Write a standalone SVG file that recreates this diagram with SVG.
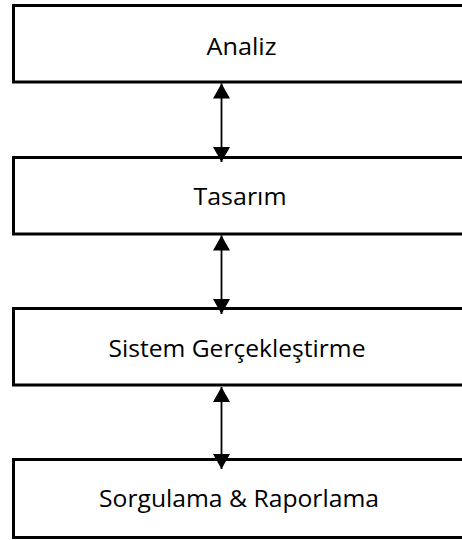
<svg xmlns="http://www.w3.org/2000/svg" width="462" height="540" viewBox="0 0 462 540">
<style>
.box{fill:#fff;stroke:#000;stroke-width:3}
.lbl{font-family:"Open Sans","Noto Sans","DejaVu Sans",sans-serif;font-size:24.5px;fill:#000;text-anchor:middle}
.conn{stroke:#000;stroke-width:1.8;fill:none;marker-start:url(#ah);marker-end:url(#ah)}
</style>
<defs>
<marker id="ah" markerUnits="userSpaceOnUse" markerWidth="16" markerHeight="17" refX="15" refY="8.5" orient="auto-start-reverse" viewBox="0 0 16 17">
<path d="M0,0 L15,8.5 L0,17 z" fill="#000"/>
</marker>
</defs>
<rect width="462" height="540" fill="#fff"/>
<g id="node-analiz">
<rect class="box" x="13.5" y="5.5" width="453" height="76.5"/>
<text class="lbl" x="241.5" y="54.5" textLength="70" lengthAdjust="spacingAndGlyphs">Analiz</text>
</g>
<g id="node-tasarim">
<rect class="box" x="13.5" y="157.5" width="453" height="76.5"/>
<text class="lbl" x="240" y="205" textLength="93" lengthAdjust="spacingAndGlyphs">Tasarım</text>
</g>
<g id="node-sistem">
<rect class="box" x="13.5" y="308.5" width="453" height="76.5"/>
<text class="lbl" x="237" y="356.5" textLength="257" lengthAdjust="spacingAndGlyphs">Sistem Gerçekleştirme</text>
</g>
<g id="node-sorgulama">
<rect class="box" x="13.5" y="459.5" width="453" height="78"/>
<text class="lbl" x="239" y="507" textLength="280" lengthAdjust="spacingAndGlyphs">Sorgulama &amp; Raporlama</text>
</g>
<g id="connectors">
<line class="conn" x1="221.5" y1="83.5" x2="221.5" y2="162"/>
<line class="conn" x1="221.5" y1="235.5" x2="221.5" y2="314"/>
<line class="conn" x1="221.5" y1="387" x2="221.5" y2="469"/>
</g>
</svg>
